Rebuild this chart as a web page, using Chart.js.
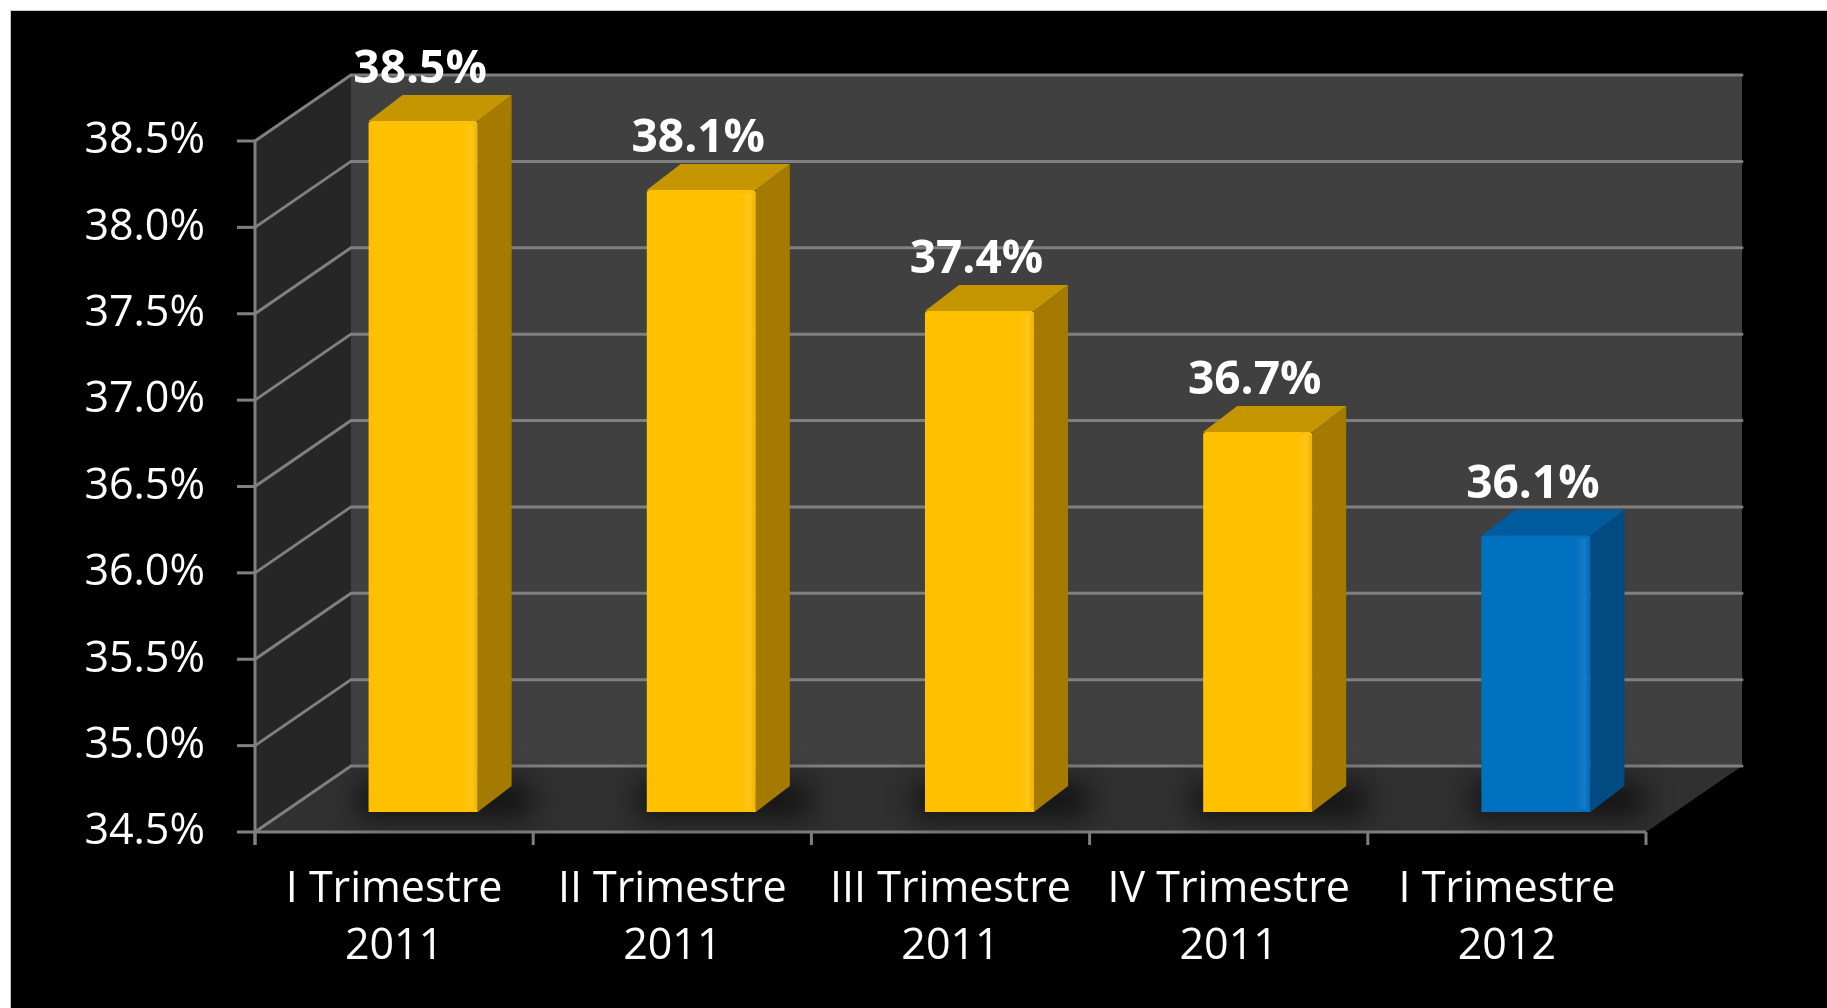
<!DOCTYPE html>
<html>
<head>
<meta charset="utf-8">
<script src="https://cdn.jsdelivr.net/npm/chart.js@4/dist/chart.umd.min.js"></script>
<style>
html, body { margin: 0; padding: 0; background: #fff; width: 1827px; height: 1008px; overflow: hidden; }
#wrap { position: absolute; left: 10px; top: 10px; width: 1816px; height: 997px; background: #000;
        border-left: 1px solid #c8c8c8; border-top: 1px solid #c8c8c8; }
canvas { display: block; }
</style>
</head>
<body>
<div id="wrap"><canvas id="chart" width="1816" height="997"></canvas></div>
<script>
// Data
const quarters = [
    ["I Trimestre", "2011"],
    ["II Trimestre", "2011"],
    ["III Trimestre", "2011"],
    ["IV Trimestre", "2011"],
    ["I Trimestre", "2012"]
];
const rates = [38.5, 38.1, 37.4, 36.7, 36.1];
const yTicks = [34.5, 35.0, 35.5, 36.0, 36.5, 37.0, 37.5, 38.0, 38.5];

// Styles
const barFront = ["#FFC000", "#FFC000", "#FFC000", "#FFC000", "#0070C0"];
const barSide = ["#A47B00", "#A47B00", "#A47B00", "#A47B00", "#004B82"];
const barTop = ["#C69600", "#C69600", "#C69600", "#C69600", "#005C9E"];
const FRONT = [-29, 20];   // front frame offset from bar plane
const BACK = [67, -46];    // back wall offset from bar plane
const DEPTH = [34, -26];   // bar depth

function poly(ctx, pts, color) {
    ctx.beginPath();
    ctx.moveTo(pts[0][0], pts[0][1]);
    for (let i = 1; i < pts.length; i++) ctx.lineTo(pts[i][0], pts[i][1]);
    ctx.closePath();
    ctx.fillStyle = color;
    ctx.fill();
}

// Walls, floor, grid and the bar sides
const frame3d = {
    id: "frame3d",
    beforeDatasetsDraw(chart) {
        const { ctx, chartArea: a, scales: { x, y } } = chart;
        const [fx, fy] = FRONT;
        const [bx, by] = BACK;
        const top = y.getPixelForValue(yTicks[yTicks.length - 1]);
        const bot = y.getPixelForValue(yTicks[0]);
        ctx.save();

        ctx.fillStyle = "#404040";
        ctx.fillRect(a.left + bx, top + by, a.right - a.left, bot - top);
        poly(ctx, [[a.left + fx, top + fy], [a.left + bx, top + by], [a.left + bx, bot + by], [a.left + fx, bot + fy]], "#262626");
        poly(ctx, [[a.left + fx, bot + fy], [a.right + fx, bot + fy], [a.right + bx, bot + by], [a.left + bx, bot + by]], "#303030");

        ctx.strokeStyle = "#808080";
        ctx.lineWidth = 3;
        ctx.lineCap = "round";
        yTicks.forEach(v => {
            const py = y.getPixelForValue(v);
            ctx.beginPath();
            ctx.moveTo(a.left + fx, py + fy);
            ctx.lineTo(a.left + bx, py + by);
            ctx.lineTo(a.right + bx, py + by);
            ctx.stroke();
        });
        ctx.lineCap = "butt";
        yTicks.forEach(v => {
            const py = y.getPixelForValue(v);
            ctx.beginPath();
            ctx.moveTo(a.left + fx - 18, py + fy);
            ctx.lineTo(a.left + fx, py + fy);
            ctx.stroke();
        });
        ctx.beginPath();
        ctx.moveTo(a.left + fx, top + fy);
        ctx.lineTo(a.left + fx, bot + fy + 13);
        ctx.moveTo(a.left + fx, bot + fy);
        ctx.lineTo(a.right + fx, bot + fy);
        ctx.stroke();
        for (let i = 0; i <= quarters.length; i++) {
            const px = x.getPixelForValue(i - 0.5) + fx;
            ctx.beginPath();
            ctx.moveTo(px, bot + fy);
            ctx.lineTo(px, bot + fy + 13);
            ctx.stroke();
        }

        const meta = chart.getDatasetMeta(0);
        meta.data.forEach((bar, i) => {
            const xl = bar.x - bar.width / 2, xr = bar.x + bar.width / 2;
            const yt = bar.y, yb = bot;
            ctx.save();
            ctx.filter = "blur(14px)";
            ctx.fillStyle = "rgba(0,0,0,0.6)";
            ctx.fillRect(xl - 10, yb - 30, xr - xl + 64, 36);
            ctx.restore();
            poly(ctx, [[xr, yt], [xr + DEPTH[0], yt + DEPTH[1]], [xr + DEPTH[0], yb + DEPTH[1]], [xr, yb]], barSide[i]);
            poly(ctx, [[xl, yt], [xr, yt], [xr + DEPTH[0], yt + DEPTH[1]], [xl + DEPTH[0], yt + DEPTH[1]]], barTop[i]);
        });
        ctx.restore();
    },
    afterDatasetsDraw(chart) {
        const { ctx, scales: { y } } = chart;
        const bot = y.getPixelForValue(yTicks[0]);
        const meta = chart.getDatasetMeta(0);
        ctx.save();
        meta.data.forEach((bar, i) => {
            const xr = bar.x + bar.width / 2;
            // soft highlight near the right edge of the front face
            const g = ctx.createLinearGradient(xr - 16, 0, xr, 0);
            g.addColorStop(0, "rgba(255,255,255,0)");
            g.addColorStop(0.65, "rgba(255,255,255,0.09)");
            g.addColorStop(1, "rgba(0,0,0,0.06)");
            ctx.fillStyle = g;
            ctx.fillRect(xr - 16, bar.y + 3, 16, bot - bar.y - 6);

            ctx.fillStyle = "#ffffff";
            ctx.font = "bold 46px 'Open Sans'";
            ctx.textAlign = "center";
            ctx.textBaseline = "alphabetic";
            ctx.fillText(rates[i].toFixed(1) + "%", bar.x - 3, bar.y - 38);
        });
        ctx.restore();
    }
};

const ctx = document.getElementById("chart").getContext("2d");
new Chart(ctx, {
    type: "bar",
    data: {
        labels: quarters,
        datasets: [
            {
                data: rates,
                backgroundColor: barFront,
                barPercentage: 0.392,
                categoryPercentage: 1,
                borderRadius: 3,
                borderSkipped: false
            }
        ]
    },
    options: {
        responsive: false,
        animation: false,
        layout: { padding: { left: 0, right: 152, top: 110, bottom: 0 } },
        plugins: { legend: { display: false }, tooltip: { enabled: false } },
        scales: {
            x: {
                grid: { display: false, drawTicks: false },
                border: { display: false },
                ticks: {
                    color: "#ffffff",
                    font: { family: "Open Sans", size: 43, lineHeight: 1.33 },
                    padding: 49,
                    labelOffset: FRONT[0],
                    maxRotation: 0,
                    autoSkip: false
                },
                afterFit(scale) { scale.height = 196; }
            },
            y: {
                min: yTicks[0],
                max: yTicks[yTicks.length - 1],
                grid: { display: false, drawTicks: false },
                border: { display: false },
                afterBuildTicks(scale) { scale.ticks = yTicks.map(v => ({ value: v })); },
                ticks: {
                    color: "#ffffff",
                    font: { family: "Open Sans", size: 43 },
                    padding: 79,
                    labelOffset: FRONT[1],
                    callback: v => Number(v).toFixed(1) + "%"
                },
                afterFit(scale) { scale.width = 273; }
            }
        }
    },
    plugins: [frame3d]
});
</script>
</body>
</html>
